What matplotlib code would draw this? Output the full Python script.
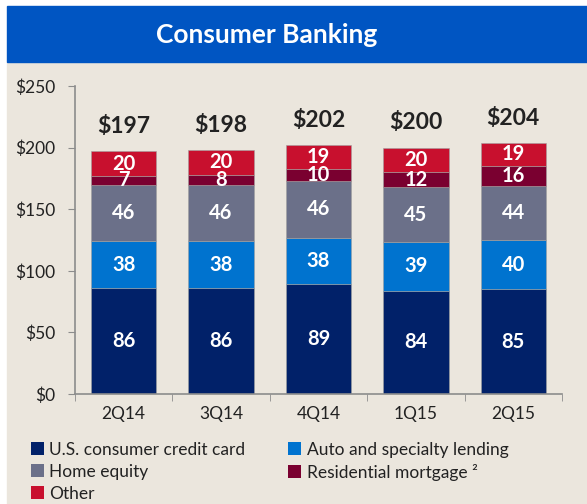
import matplotlib.pyplot as plt
import numpy as np
from matplotlib.patches import Rectangle, Patch

quarters = ["2Q14", "3Q14", "4Q14", "1Q15", "2Q15"]
credit_card = [86, 86, 89, 84, 85]
auto = [38, 38, 38, 39, 40]
home_equity = [46, 46, 46, 45, 44]
resi_mortgage = [7, 8, 10, 12, 16]
other = [20, 20, 19, 20, 19]
totals = [197, 198, 202, 200, 204]

series = [
    ("U.S. consumer credit card", credit_card, "#012169"),
    ("Auto and specialty lending", auto, "#0073CF"),
    ("Home equity", home_equity, "#6B7089"),
    ("Residential mortgage ²", resi_mortgage, "#7A0030"),
    ("Other", other, "#C8102E"),
]

plt.rcParams["font.family"] = ["Lato", "DejaVu Sans"]

W, H = 587, 504
fig = plt.figure(figsize=(W / 100, H / 100), dpi=100)
fig.patch.set_facecolor("white")
bg = "#EBE6DD"

# beige panel + blue title banner
fig.patches.append(Rectangle((7 / W, 0), 1 - 7 / W, 1 - 62 / H,
                             transform=fig.transFigure, color=bg, zorder=-10))
fig.patches.append(Rectangle((7 / W, 1 - 62 / H), 1 - 7 / W, 56 / H,
                             transform=fig.transFigure, color="#0055C2", zorder=-10))
fig.text(267 / W, 1 - 35 / H, "Consumer Banking", color="white",
         fontsize=19, fontweight="bold", ha="center", va="center")

ax = fig.add_axes([75 / W, 1 - 394 / H, (562 - 75) / W, (394 - 86) / H])
ax.set_facecolor("none")

x = np.arange(len(quarters))
bottom = np.zeros(len(quarters))
for name, vals, col in series:
    vals = np.array(vals)
    ax.bar(x, vals, 0.67, bottom=bottom, color=col, edgecolor="#a0a0a0",
           linewidth=0.4, zorder=2)
    for xi, b, v in zip(x, bottom, vals):
        ax.text(xi, b + v / 2, str(v), color="white", fontsize=14.5,
                fontweight="bold", ha="center", va="center", zorder=3)
    bottom += vals

for xi, t in zip(x, totals):
    ax.text(xi, t + 20, f"${t}", color="#222222", fontsize=16.5,
            fontweight="bold", ha="center", va="center")

ax.set_xlim(-0.5, len(quarters) - 0.5)
ax.set_ylim(0, 250)
ax.set_yticks(range(0, 251, 50))
ax.set_yticklabels([f"${v}" for v in range(0, 251, 50)])
ax.set_xticks(x)
ax.set_xticklabels(quarters)
ax.set_xticks(np.arange(-0.5, len(quarters), 1), minor=True)
ax.tick_params(axis="x", which="major", length=0, pad=9, labelsize=12.5,
               labelcolor="#222222")
ax.tick_params(axis="x", which="minor", length=5, color="#8c8c8c")
ax.tick_params(axis="y", length=5, color="#8c8c8c", labelsize=12.5,
               labelcolor="#222222", pad=9)
for s in ["top", "right"]:
    ax.spines[s].set_visible(False)
for s in ["left", "bottom"]:
    ax.spines[s].set_color("#8c8c8c")
    ax.spines[s].set_linewidth(1.2)

order = [0, 2, 4, 1, 3]
handles = [Patch(facecolor=series[i][2], label=series[i][0]) for i in order]
fig.legend(handles=handles, ncol=2, loc="upper left",
           bbox_to_anchor=(15 / W, 1 - 426 / H), frameon=False,
           fontsize=12.5, handlelength=0.75, handleheight=0.75,
           handletextpad=0.3, columnspacing=2.5, labelspacing=0.35,
           labelcolor="#222222")

fig.savefig("out.png", dpi=100, facecolor=fig.get_facecolor())
